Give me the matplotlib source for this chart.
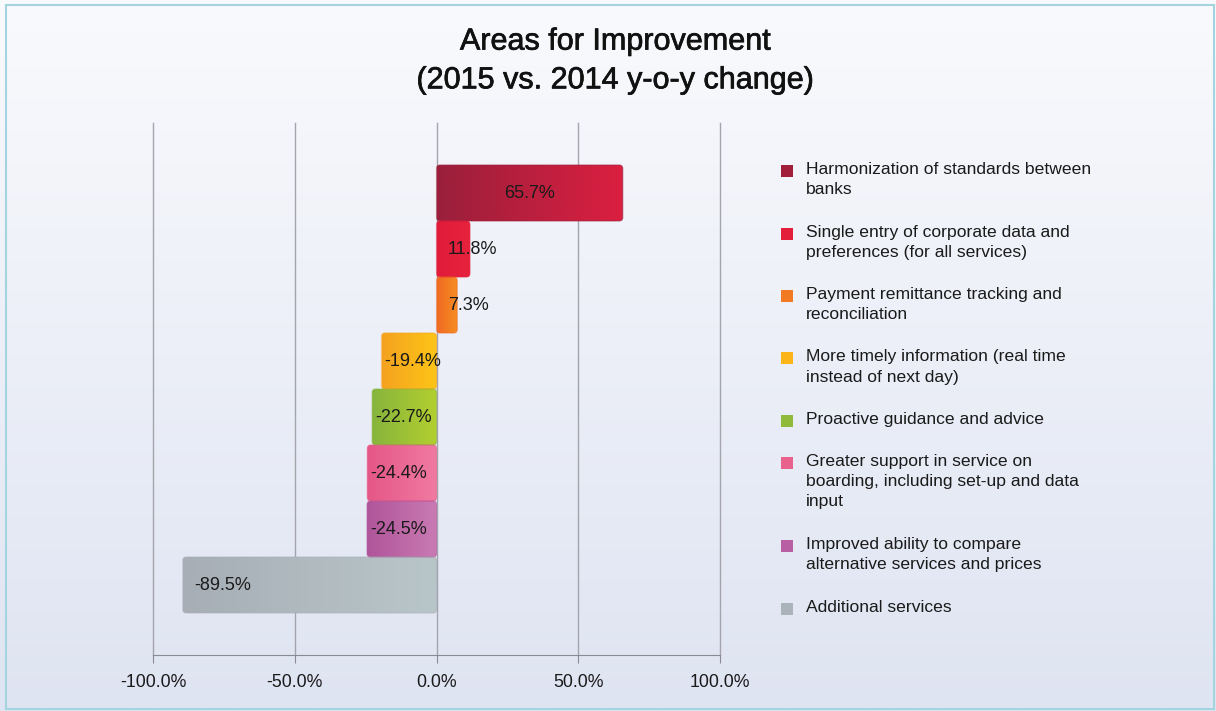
import numpy as np
import matplotlib.pyplot as plt
import matplotlib.patheffects as pe
from matplotlib.patches import FancyBboxPatch, Rectangle
from matplotlib.colors import LinearSegmentedColormap

plt.rcParams['font.family'] = ['Liberation Sans', 'DejaVu Sans']

# data
categories = [
    "Harmonization of standards between\nbanks",
    "Single entry of corporate data and\npreferences (for all services)",
    "Payment remittance tracking and\nreconciliation",
    "More timely information (real time\ninstead of next day)",
    "Proactive guidance and advice",
    "Greater support in service on\nboarding, including set-up and data\ninput",
    "Improved ability to compare\nalternative services and prices",
    "Additional services",
]
values = [65.7, 11.8, 7.3, -19.4, -22.7, -24.4, -24.5, -89.5]
# left / right colour of each bar's gradient
colors_left = ["#9a1f3b", "#e01c3a", "#f06a22", "#f4a21f", "#86b43d", "#e55786", "#b0559a", "#a7aeb6"]
colors_right = ["#db1f41", "#e8223d", "#f68e24", "#fec517", "#b3cf2f", "#f07aa2", "#c97ab3", "#b9c6c9"]
legend_colors = ["#a21f3c", "#e31e3b", "#f27a22", "#fbb41a", "#8fba3a", "#e9628e", "#b85ea2", "#abb3ba"]
xticks = [-100, -50, 0, 50, 100]

fig = plt.figure(figsize=(12.16, 7.11), dpi=100)

# background gradient
bg = fig.add_axes([0, 0, 1, 1], zorder=-10)
grad = np.linspace(0, 1, 256).reshape(-1, 1)
bg_cmap = LinearSegmentedColormap.from_list("bg", ["#f9fafd", "#dfe4f2"])
bg.imshow(grad, aspect="auto", cmap=bg_cmap, extent=[0, 1, 0, 1], origin="upper")
bg.set_xlim(0, 1)
bg.set_ylim(0, 1)
bg.axis("off")
bg.add_patch(Rectangle((6 / 1216, 2 / 711), 1208 / 1216, 704 / 711,
                       fill=False, edgecolor="#a3d4df", lw=1.5))

ax = fig.add_axes([153 / 1216, 1 - 655 / 711, 567 / 1216, 532 / 711])
ax.patch.set_alpha(0)

n = len(values)
ax.set_xlim(-100, 100)
ax.set_ylim(n + 0.25, -1.25)

# grid lines
for t in xticks:
    ax.axvline(t, color="#a4a4ac", lw=1, zorder=1, clip_on=False)

for i, v in enumerate(values):
    x0 = min(0, v)
    w = abs(v)
    patch = FancyBboxPatch((x0, i - 0.5), w, 1.0,
                           boxstyle="round,pad=0,rounding_size=1.3",
                           mutation_aspect=0.05,
                           facecolor="none", edgecolor=colors_left[i],
                           lw=0.8, alpha=0.6, zorder=3)
    ax.add_patch(patch)
    cmap = LinearSegmentedColormap.from_list("b%d" % i, [colors_left[i], colors_right[i]])
    im = ax.imshow(np.linspace(0, 1, 128).reshape(1, -1), cmap=cmap, aspect="auto",
                   extent=[x0, x0 + w, i + 0.5, i - 0.5], zorder=2, interpolation="bilinear")
    im.set_clip_path(patch)

    label = "%.1f%%" % v
    if v > 50:
        ax.text(v / 2, i, label, ha="center", va="center", fontsize=13, color="#1a1a1a", zorder=4)
    elif v > 0:
        ax.text(4, i, label, ha="left", va="center", fontsize=13, color="#1a1a1a", zorder=4)
    else:
        pad = 4 if v < -50 else 1
        ax.text(v + pad, i, label, ha="left", va="center", fontsize=13, color="#1a1a1a", zorder=4)

# imshow resets limits, put them back
ax.set_ylim(n + 0.25, -1.25)
ax.set_xlim(-100, 100)

ax.set_xticks(xticks)
ax.set_xticklabels(["%.1f%%" % t for t in xticks], fontsize=12.8, color="#1a1a1a")
ax.set_yticks([])
for s in ["top", "left", "right"]:
    ax.spines[s].set_visible(False)
ax.spines["bottom"].set_color("#8a8a92")
ax.tick_params(axis="x", direction="out", length=6, color="#8a8a92", pad=8)

fig.text(615 / 1216, 1 - 61 / 711, "Areas for Improvement\n(2015 vs. 2014 y-o-y change)",
         ha="center", va="center", fontsize=22, color="#111111", linespacing=1.38,
         path_effects=[pe.withStroke(linewidth=0.5, foreground="#111111")])

# legend drawn by hand so the markers sit on the first line of each entry
y = 171
line_h = 20.5
for i, name in enumerate(categories):
    fig.patches.append(Rectangle((781 / 1216, 1 - (y + 6) / 711), 12 / 1216, 12 / 711,
                                 transform=fig.transFigure, figure=fig,
                                 facecolor=legend_colors[i], edgecolor="none"))
    fig.text(806 / 1216, 1 - (y - 9) / 711, name, ha="left", va="top",
             fontsize=12.6, color="#1a1a1a", linespacing=1.42)
    y += name.count("\n") * line_h + 42

fig.savefig("out.png", dpi=100)
